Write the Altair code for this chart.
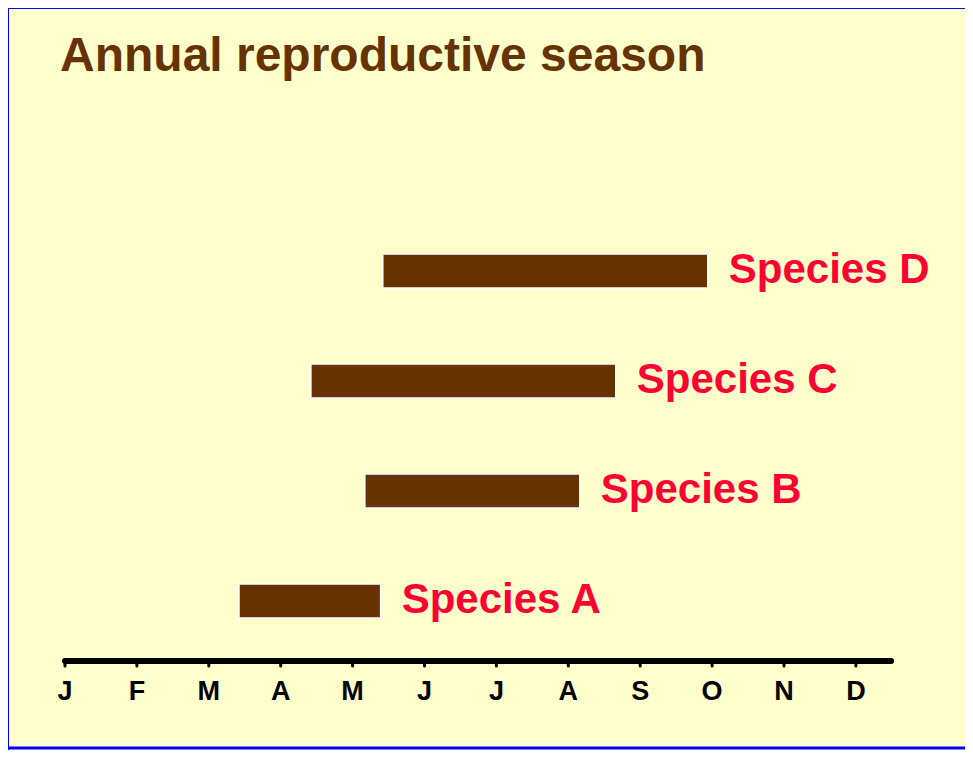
import altair as alt
import pandas as pd

# ---- data ----
species = ["Species A", "Species B", "Species C", "Species D"]
season_start = [2.42, 4.17, 3.42, 4.42]   # month index (0 = January)
season_end = [4.39, 7.16, 7.66, 8.94]
month_labels = ["J", "F", "M", "A", "M", "J", "J", "A", "S", "O", "N", "D"]
title_text = "Annual reproductive season"

BG = "#FFFFCC"
BROWN = "#663300"
RED = "#FF0033"
FONT = "Arial, Liberation Sans, Helvetica, sans-serif"

W, H = 957, 742
AXIS_Y = 653

bars_df = pd.DataFrame({"species": species, "start": season_start, "end": season_end})
months_df = pd.DataFrame({"m": list(range(len(month_labels))), "label": month_labels})
axis_df = pd.DataFrame({"a": [0.0], "b": [11.49]})

xscale = alt.Scale(domain=[0, 12], range=[57, 57 + 71.9 * 12])
yscale = alt.Scale(type="point", domain=["Species D", "Species C", "Species B", "Species A"],
                   range=[263, 593], padding=0)

bars = alt.Chart(bars_df).mark_bar(height=34, color=BROWN, stroke="white", strokeWidth=1.5).encode(
    x=alt.X("start:Q", scale=xscale, axis=None),
    x2="end:Q",
    y=alt.Y("species:N", scale=yscale, axis=None),
)

labels = alt.Chart(bars_df).mark_text(
    align="left", baseline="middle", dx=21, dy=-1, font=FONT, fontSize=42,
    fontWeight="bold", color=RED,
).encode(
    x=alt.X("end:Q", scale=xscale, axis=None),
    y=alt.Y("species:N", scale=yscale, axis=None),
    text="species:N",
)

axis_line = alt.Chart(axis_df).mark_rule(color="black", strokeWidth=6, strokeCap="round").encode(
    x=alt.X("a:Q", scale=xscale, axis=None),
    x2="b:Q",
    y=alt.value(AXIS_Y),
)

ticks = alt.Chart(months_df).mark_rule(color="black", strokeWidth=3, strokeCap="round").encode(
    x=alt.X("m:Q", scale=xscale, axis=None),
    y=alt.value(AXIS_Y + 1),
    y2=alt.value(AXIS_Y + 5),
)

month_text = alt.Chart(months_df).mark_text(
    align="center", baseline="middle", font=FONT, fontSize=27, fontWeight="bold", color="black",
).encode(
    x=alt.X("m:Q", scale=xscale, axis=None),
    y=alt.value(AXIS_Y + 31),
    text="label:N",
)

title = alt.Chart(pd.DataFrame({"t": [title_text]})).mark_text(
    align="left", baseline="alphabetic", font=FONT, fontSize=48, fontWeight="bold", color=BROWN,
).encode(
    x=alt.value(52),
    y=alt.value(63),
    text="t:N",
)

border_top = alt.Chart(axis_df).mark_rule(color="#0000FF", strokeWidth=2).encode(
    x=alt.value(0), x2=alt.value(W), y=alt.value(0))
border_left = alt.Chart(axis_df).mark_rule(color="#0000FF", strokeWidth=2).encode(
    x=alt.value(0), y=alt.value(0), y2=alt.value(H))
border_bottom = alt.Chart(axis_df).mark_rule(color="#0000FF", strokeWidth=3).encode(
    x=alt.value(0), x2=alt.value(W), y=alt.value(H - 2))

chart = alt.layer(
    bars, labels, axis_line, ticks, month_text, title, border_top, border_left, border_bottom
).properties(
    width=W, height=H,
    autosize=alt.AutoSizeParams(type="none"),
    padding=0,
    background=BG,
).configure_view(stroke=None)

chart.save("out.html", embed_options={"renderer": "svg", "actions": False})
